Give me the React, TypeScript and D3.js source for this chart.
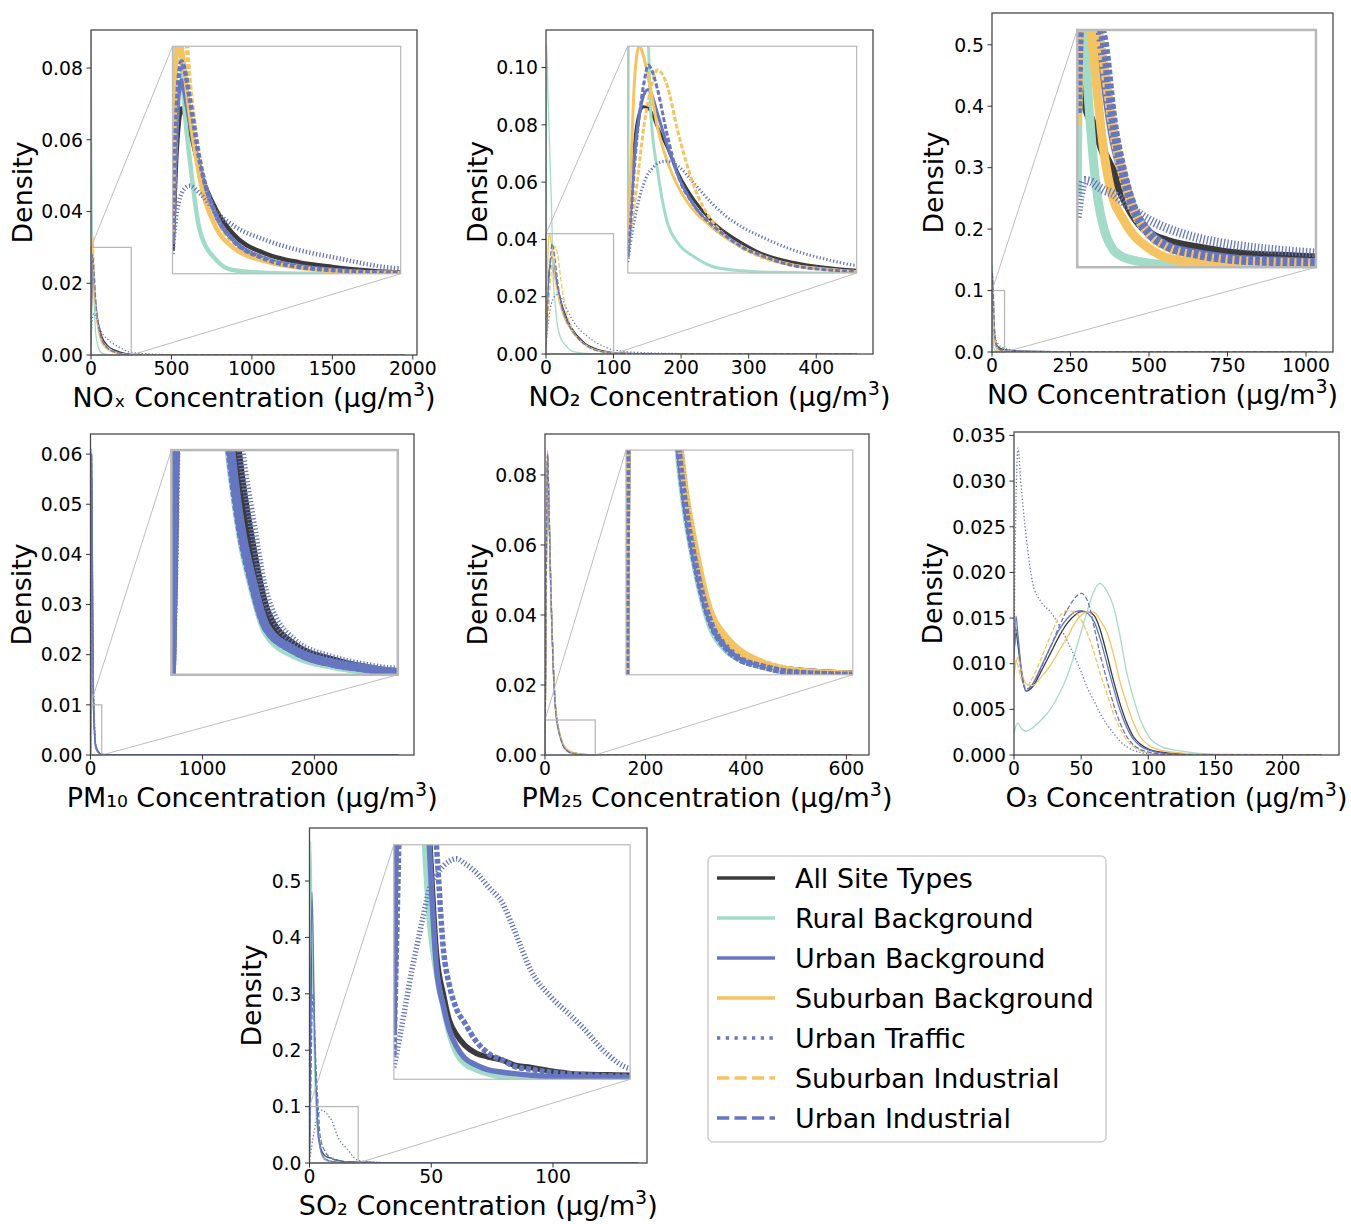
import React from 'react';
import * as d3 from 'd3';

const FONT = '"DejaVu Sans", sans-serif';

const SITE_TYPES = [
  'All Site Types',
  'Rural Background',
  'Urban Background',
  'Suburban Background',
  'Urban Traffic',
  'Suburban Industrial',
  'Urban Industrial',
];

// line look per site type (same order as SITE_TYPES)
const STYLES = [
  { color: '#3b3b3b', dash: '' },
  { color: '#a2dcc9', dash: '' },
  { color: '#6676c0', dash: '' },
  { color: '#f5c462', dash: '' },
  { color: '#6676c0', dash: 'dot' },
  { color: '#f5c462', dash: 'dash' },
  { color: '#6676c0', dash: 'dash' },
];

// ---- NOx ----
const NOX_X = [0, 1, 4, 7, 10, 13, 19, 30, 48, 66, 103, 139, 175, 250, 500, 1000, 1950];
const NOX_ALL = [0.003, 0.006, 0.015, 0.02, 0.0218, 0.0212, 0.0189, 0.0136, 0.0084, 0.0053, 0.0026, 0.0015, 0.0009, 0.0002, 0, 0, 0];
const NOX_RURAL = [0.01, 0.095, 0.06, 0.04, 0.028, 0.022, 0.015, 0.0057, 0.0018, 0.0005, 0.0001, 0, 0, 0, 0, 0, 0];
const NOX_URBAN = [0.004, 0.008, 0.018, 0.024, 0.0255, 0.024, 0.02, 0.014, 0.0075, 0.0045, 0.0019, 0.001, 0.0005, 0.0001, 0, 0, 0];
const NOX_SUBURBAN = [0.005, 0.012, 0.028, 0.032, 0.03, 0.027, 0.021, 0.0125, 0.006, 0.0035, 0.0016, 0.0008, 0.0004, 0.0001, 0, 0, 0];
const NOX_TRAFFIC = [0.0026, 0.004, 0.0075, 0.0095, 0.0106, 0.0112, 0.0116, 0.0106, 0.0081, 0.0064, 0.0044, 0.0031, 0.0022, 0.0007, 0.0001, 0, 0];
const NOX_SUBIND = [0.004, 0.008, 0.02, 0.028, 0.032, 0.033, 0.025, 0.015, 0.0075, 0.0042, 0.0018, 0.0009, 0.0004, 0.0001, 0, 0, 0];
const NOX_URBIND = [0.004, 0.008, 0.02, 0.026, 0.028, 0.027, 0.023, 0.0148, 0.0077, 0.0045, 0.0019, 0.0009, 0.0005, 0.0001, 0, 0, 0];
const NOX_XTICKS = [0, 500, 1000, 1500, 2000];
const NOX_YTICKS = [0, 0.02, 0.04, 0.06, 0.08];

// ---- NO2 ----
const NO2_X = [0, 1, 3, 5, 7, 9, 10, 13, 17, 22, 29, 37, 43, 50, 58, 72, 87, 100, 150, 250, 460];
const NO2_ALL = [0.003, 0.01, 0.024, 0.0295, 0.0308, 0.0305, 0.03, 0.027, 0.0235, 0.0185, 0.0135, 0.0095, 0.0074, 0.0055, 0.0037, 0.002, 0.001, 0.0005, 0.0001, 0, 0];
const NO2_RURAL = [0.01, 0.108, 0.09, 0.075, 0.06, 0.043, 0.03, 0.019, 0.0098, 0.0055, 0.003, 0.0012, 0.0007, 0.0004, 0.0002, 0.0001, 0, 0, 0, 0, 0];
const NO2_URBAN = [0.003, 0.009, 0.022, 0.029, 0.033, 0.034, 0.0335, 0.0295, 0.024, 0.018, 0.0125, 0.0085, 0.0066, 0.0048, 0.0032, 0.0015, 0.0007, 0.0003, 0.00005, 0, 0];
const NO2_SUBURBAN = [0.005, 0.015, 0.036, 0.042, 0.04, 0.036, 0.034, 0.027, 0.021, 0.016, 0.0115, 0.0085, 0.0065, 0.0048, 0.0033, 0.0015, 0.0007, 0.0003, 0.00005, 0, 0];
const NO2_TRAFFIC = [0.002, 0.005, 0.01, 0.0138, 0.0165, 0.0185, 0.019, 0.0203, 0.0207, 0.0198, 0.0166, 0.0128, 0.0105, 0.0085, 0.0068, 0.0043, 0.0025, 0.0014, 0.0004, 0.00005, 0];
const NO2_SUBIND = [0.003, 0.007, 0.013, 0.02, 0.027, 0.032, 0.034, 0.0376, 0.035, 0.026, 0.016, 0.0095, 0.0068, 0.0046, 0.003, 0.0014, 0.0006, 0.0002, 0, 0, 0];
const NO2_URBIND = [0.003, 0.008, 0.02, 0.029, 0.035, 0.0385, 0.038, 0.034, 0.026, 0.018, 0.0125, 0.0088, 0.0068, 0.0048, 0.0033, 0.0014, 0.0006, 0.0003, 0, 0, 0];
const NO2_XTICKS = [0, 100, 200, 300, 400];
const NO2_YTICKS = [0, 0.02, 0.04, 0.06, 0.08, 0.1];

// ---- NO ----
const NO_X = [0, 0.5, 1.2, 2.3, 3.5, 4.5, 6, 7.5, 9.3, 12, 15, 20, 26, 33, 40, 60, 100, 300, 1035];
const NO_ALL = [0.085, 0.08, 0.07, 0.062, 0.055, 0.048, 0.04, 0.031, 0.0224, 0.0145, 0.011, 0.0082, 0.0058, 0.0047, 0.004, 0.0025, 0.0012, 0.0002, 0];
const NO_RURAL = [0.03, 0.14, 0.1, 0.0565, 0.028, 0.016, 0.0075, 0.0045, 0.003, 0.0018, 0.001, 0.0003, 0.0001, 0, 0, 0, 0, 0, 0];
const NO_URBAN = [0.07, 0.12, 0.125, 0.11, 0.095, 0.08, 0.055, 0.04, 0.025, 0.0145, 0.009, 0.0058, 0.0036, 0.0026, 0.002, 0.0012, 0.0006, 0.0001, 0];
const NO_SUBURBAN = [0.06, 0.11, 0.12, 0.1, 0.07, 0.048, 0.029, 0.021, 0.014, 0.008, 0.004, 0.002, 0.0012, 0.0008, 0.0006, 0.0003, 0.0001, 0, 0];
const NO_TRAFFIC = [0.021, 0.03, 0.0366, 0.036, 0.034, 0.0325, 0.031, 0.028, 0.0245, 0.02, 0.0165, 0.0125, 0.0095, 0.0074, 0.006, 0.0035, 0.0015, 0.0002, 0];
const NO_SUBIND = [0.06, 0.1, 0.125, 0.115, 0.1, 0.085, 0.058, 0.04, 0.025, 0.014, 0.0085, 0.005, 0.003, 0.0022, 0.0017, 0.001, 0.0005, 0.0001, 0];
const NO_URBIND = [0.065, 0.11, 0.13, 0.12, 0.105, 0.095, 0.062, 0.042, 0.026, 0.0145, 0.009, 0.0055, 0.0033, 0.0024, 0.0018, 0.001, 0.0005, 0.0001, 0];
const NO_XTICKS = [0, 250, 500, 750, 1000];
const NO_YTICKS = [0, 0.1, 0.2, 0.3, 0.4, 0.5];

// ---- PM10 (no suburban sites) ----
const PM10_X = [0, 1, 2, 5, 10, 15, 20, 25, 28, 31, 35, 42, 54, 72, 85, 100, 200, 500, 2750];
const PM10_ALL = [0, 0.005, 0.012, 0.038, 0.058, 0.047, 0.027, 0.0145, 0.011, 0.0085, 0.006, 0.0028, 0.0013, 0.0006, 0.0003, 0.0001, 0, 0, 0];
const PM10_RURAL = [0, 0.008, 0.018, 0.05, 0.061, 0.04, 0.019, 0.0105, 0.008, 0.006, 0.0042, 0.0019, 0.0009, 0.0004, 0.0002, 0.0001, 0, 0, 0];
const PM10_URBAN = [0, 0.006, 0.014, 0.042, 0.06, 0.044, 0.022, 0.0115, 0.0085, 0.0064, 0.0045, 0.0021, 0.0011, 0.0005, 0.0003, 0.0001, 0, 0, 0];
const PM10_TRAFFIC = [0, 0.004, 0.01, 0.034, 0.055, 0.048, 0.03, 0.017, 0.0128, 0.0098, 0.0072, 0.0034, 0.0015, 0.0007, 0.0004, 0.0002, 0, 0, 0];
const PM10_URBIND = [0, 0.006, 0.015, 0.044, 0.06, 0.043, 0.021, 0.011, 0.0082, 0.0062, 0.0044, 0.0021, 0.0011, 0.0005, 0.0003, 0.0001, 0, 0, 0];
const PM10_XTICKS = [0, 1000, 2000];
const PM10_YTICKS = [0, 0.01, 0.02, 0.03, 0.04, 0.05, 0.06];

// ---- PM2.5 ----
const PM25_X = [0, 1, 3, 5, 8, 12, 16, 20, 23, 26, 30, 37, 44, 50, 59, 74, 100, 200, 610];
const PM25_ALL = [0, 0.02, 0.06, 0.086, 0.07, 0.045, 0.027, 0.0152, 0.0107, 0.008, 0.0056, 0.0026, 0.0014, 0.0009, 0.0005, 0.0002, 0.00005, 0, 0];
const PM25_RURAL = [0, 0.022, 0.065, 0.087, 0.068, 0.043, 0.025, 0.014, 0.0098, 0.0073, 0.005, 0.0022, 0.0011, 0.0007, 0.0004, 0.0001, 0, 0, 0];
const PM25_URBAN = [0, 0.02, 0.06, 0.086, 0.07, 0.045, 0.027, 0.015, 0.0105, 0.0078, 0.0054, 0.0025, 0.0013, 0.0008, 0.0005, 0.0002, 0.00005, 0, 0];
const PM25_SUBURBAN = [0, 0.019, 0.058, 0.087, 0.071, 0.046, 0.028, 0.016, 0.0112, 0.0084, 0.006, 0.0029, 0.0017, 0.0011, 0.0006, 0.0002, 0.00005, 0, 0];
const PM25_TRAFFIC = [0, 0.018, 0.056, 0.084, 0.071, 0.047, 0.029, 0.0163, 0.0112, 0.0082, 0.0056, 0.0025, 0.0012, 0.0007, 0.0004, 0.0001, 0, 0, 0];
const PM25_SUBIND = [0, 0.019, 0.057, 0.086, 0.071, 0.046, 0.028, 0.0158, 0.011, 0.0082, 0.0058, 0.0028, 0.0016, 0.001, 0.0006, 0.0002, 0, 0, 0];
const PM25_URBIND = [0, 0.02, 0.06, 0.086, 0.07, 0.045, 0.027, 0.0148, 0.0103, 0.0076, 0.0052, 0.0024, 0.0012, 0.0007, 0.0004, 0.0001, 0, 0, 0];
const PM25_XTICKS = [0, 200, 400, 600];
const PM25_YTICKS = [0, 0.02, 0.04, 0.06, 0.08];

// ---- O3 ----
const O3_X = [0, 1.5, 3, 5, 9, 14, 20, 27, 34, 40, 46, 50, 55, 60, 64, 69, 74, 79, 84, 89, 94, 101, 110, 126, 150, 229];
const O3_ALL = [0.0111, 0.0134, 0.012, 0.0095, 0.007, 0.0075, 0.0091, 0.0111, 0.0131, 0.0145, 0.0154, 0.0157, 0.0157, 0.0152, 0.0138, 0.0111, 0.0082, 0.0056, 0.0035, 0.002, 0.0012, 0.0006, 0.0003, 0.0001, 0, 0];
const O3_RURAL = [0.0024, 0.0032, 0.0035, 0.003, 0.0026, 0.003, 0.0038, 0.005, 0.0068, 0.0088, 0.0115, 0.0135, 0.016, 0.0181, 0.0188, 0.018, 0.0163, 0.013, 0.009, 0.0062, 0.0039, 0.0019, 0.0009, 0.0004, 0.0001, 0];
const O3_URBAN = [0.011, 0.0152, 0.013, 0.01, 0.007, 0.0078, 0.0096, 0.0118, 0.0138, 0.015, 0.0157, 0.0158, 0.0155, 0.0145, 0.0128, 0.0101, 0.0074, 0.0049, 0.003, 0.0017, 0.001, 0.0005, 0.0002, 0.0001, 0, 0];
const O3_SUBURBAN = [0.0088, 0.0102, 0.0107, 0.0095, 0.0078, 0.0076, 0.0085, 0.0098, 0.0115, 0.013, 0.0146, 0.0153, 0.0157, 0.0156, 0.0148, 0.0135, 0.0111, 0.008, 0.0056, 0.0035, 0.002, 0.001, 0.0005, 0.0002, 0, 0];
const O3_TRAFFIC = [0.012, 0.028, 0.0336, 0.03, 0.024, 0.0188, 0.0168, 0.0157, 0.0141, 0.0124, 0.0105, 0.0091, 0.0072, 0.0058, 0.0046, 0.0034, 0.0024, 0.0015, 0.0009, 0.0005, 0.0003, 0.0001, 0, 0, 0, 0];
const O3_SUBIND = [0.0085, 0.0104, 0.0098, 0.0085, 0.0075, 0.0085, 0.0105, 0.013, 0.0152, 0.0158, 0.0156, 0.0148, 0.0132, 0.011, 0.009, 0.0068, 0.0046, 0.0029, 0.0016, 0.0009, 0.0005, 0.0002, 0.0001, 0, 0, 0];
const O3_URBIND = [0.0105, 0.014, 0.0125, 0.0098, 0.0072, 0.0078, 0.0095, 0.0118, 0.0142, 0.016, 0.0173, 0.0177, 0.0168, 0.0138, 0.0111, 0.0083, 0.0056, 0.0035, 0.002, 0.0011, 0.0006, 0.0003, 0.0001, 0, 0, 0];
const O3_XTICKS = [0, 50, 100, 150, 200];
const O3_YTICKS = [0, 0.005, 0.01, 0.015, 0.02, 0.025, 0.03, 0.035];

// ---- SO2 (no suburban sites) ----
const SO2_X = [0, 0.5, 1, 1.5, 2, 2.5, 3, 3.6, 4.2, 4.7, 5.3, 6, 7, 8, 9.2, 10.2, 11.6, 13.3, 15, 16, 18, 20, 30, 60, 135];
const SO2_ALL = [0.02, 0.25, 0.39, 0.33, 0.22, 0.15, 0.105, 0.054, 0.036, 0.025, 0.019, 0.0145, 0.011, 0.0095, 0.0081, 0.006, 0.005, 0.0035, 0.0024, 0.0021, 0.0019, 0.0017, 0.0008, 0.0002, 0];
const SO2_RURAL = [0.1, 0.57, 0.45, 0.3, 0.18, 0.11, 0.068, 0.045, 0.03, 0.019, 0.011, 0.0065, 0.004, 0.0022, 0.001, 0.0006, 0.0003, 0.0002, 0.0001, 0.0001, 0, 0, 0, 0, 0];
const SO2_URBAN = [0.02, 0.3, 0.48, 0.4, 0.26, 0.16, 0.1, 0.048, 0.031, 0.021, 0.014, 0.009, 0.006, 0.004, 0.003, 0.0024, 0.0017, 0.0012, 0.001, 0.0009, 0.0008, 0.0007, 0.0003, 0.0001, 0];
const SO2_TRAFFIC = [0.005, 0.018, 0.032, 0.046, 0.058, 0.07, 0.081, 0.087, 0.091, 0.093, 0.094, 0.092, 0.088, 0.082, 0.075, 0.0635, 0.0464, 0.0351, 0.027, 0.022, 0.011, 0.0046, 0.0008, 0.0001, 0];
const SO2_URBIND = [0.01, 0.12, 0.25, 0.3, 0.25, 0.19, 0.14, 0.1, 0.055, 0.04, 0.03, 0.024, 0.016, 0.011, 0.0081, 0.0055, 0.0042, 0.003, 0.0022, 0.0019, 0.0015, 0.0013, 0.0006, 0.0001, 0];
const SO2_XTICKS = [0, 50, 100];
const SO2_YTICKS = [0, 0.1, 0.2, 0.3, 0.4, 0.5];

const panels = [
  { id: 'nox', name: 'NOₓ', box: [91, 30, 417, 355], xDomain: [0, 2026], yDomain: [0, 0.0906],
    xTicks: NOX_XTICKS, yTicks: NOX_YTICKS, yFmt: '.2f', xs: NOX_X,
    series: [NOX_ALL, NOX_RURAL, NOX_URBAN, NOX_SUBURBAN, NOX_TRAFFIC, NOX_SUBIND, NOX_URBIND],
    zoom: [250, 0.03], insetLw: 4.5, insetBorder: 1.2, yLabelX: 32 },
  { id: 'no2', name: 'NO₂', box: [546, 30, 873, 354], xDomain: [0, 484], yDomain: [0, 0.1131],
    xTicks: NO2_XTICKS, yTicks: NO2_YTICKS, yFmt: '.2f', xs: NO2_X,
    series: [NO2_ALL, NO2_RURAL, NO2_URBAN, NO2_SUBURBAN, NO2_TRAFFIC, NO2_SUBIND, NO2_URBIND],
    zoom: [100, 0.042], insetLw: 3, insetBorder: 1.2, yLabelX: 487 },
  { id: 'no', name: 'NO', box: [992, 13, 1333, 352], xDomain: [0, 1086], yDomain: [0, 0.5517],
    xTicks: NO_XTICKS, yTicks: NO_YTICKS, yFmt: '.1f', xs: NO_X,
    series: [NO_ALL, NO_RURAL, NO_URBAN, NO_SUBURBAN, NO_TRAFFIC, NO_SUBIND, NO_URBIND],
    zoom: [40, 0.1], insetLw: 9, insetBorder: 2.5, yLabelX: 943 },
  { id: 'pm10', name: 'PM₁₀', box: [90.5, 434, 414, 755], xDomain: [0, 2890], yDomain: [0, 0.064],
    xTicks: PM10_XTICKS, yTicks: PM10_YTICKS, yFmt: '.2f', xs: PM10_X,
    series: [PM10_ALL, PM10_RURAL, PM10_URBAN, null, PM10_TRAFFIC, null, PM10_URBIND],
    zoom: [100, 0.01], insetLw: 9, insetBorder: 2.5, yLabelX: 31 },
  { id: 'pm25', name: 'PM₂₅', box: [545, 434, 869, 755], xDomain: [0, 645], yDomain: [0, 0.0917],
    xTicks: PM25_XTICKS, yTicks: PM25_YTICKS, yFmt: '.2f', xs: PM25_X,
    series: [PM25_ALL, PM25_RURAL, PM25_URBAN, PM25_SUBURBAN, PM25_TRAFFIC, PM25_SUBIND, PM25_URBIND],
    zoom: [100, 0.01], insetLw: 6.5, insetBorder: 1.2, yLabelX: 487 },
  { id: 'o3', name: 'O₃', box: [1014, 432, 1339, 755], xDomain: [0, 242], yDomain: [0, 0.03538],
    xTicks: O3_XTICKS, yTicks: O3_YTICKS, yFmt: '.3f', xs: O3_X,
    series: [O3_ALL, O3_RURAL, O3_URBAN, O3_SUBURBAN, O3_TRAFFIC, O3_SUBIND, O3_URBIND],
    zoom: null, insetLw: 0, insetBorder: 0, yLabelX: 942 },
  { id: 'so2', name: 'SO₂', box: [309.5, 828, 647, 1163], xDomain: [0, 138.6], yDomain: [0, 0.594],
    xTicks: SO2_XTICKS, yTicks: SO2_YTICKS, yFmt: '.1f', xs: SO2_X,
    series: [SO2_ALL, SO2_RURAL, SO2_URBAN, null, SO2_TRAFFIC, null, SO2_URBIND],
    zoom: [20, 0.1], insetLw: 5.5, insetBorder: 1.2, yLabelX: 261 },
];

const MAIN_LW = 1.3;

function dashFor(kind, lw) {
  // dash patterns are sized for the thin main lines and kept as-is in the insets
  if (kind === 'dot') return `${lw},${lw * 1.65}`;
  if (kind === 'dash') return `${lw * 3.7},${lw * 1.6}`;
  return undefined;
}

function Lines({ p, x, y, lw, dashLw }) {
  const line = d3.line<number>()
    .x((d, i) => x(p.xs[i]))
    .y((d) => y(d))
    .curve(d3.curveMonotoneX);
  return (
    <g>
      {p.series.map((vals, i) =>
        vals ? (
          <path key={i} d={line(vals) || ''} fill="none" stroke={STYLES[i].color}
            strokeWidth={lw} strokeDasharray={dashFor(STYLES[i].dash, dashLw)}
            strokeLinejoin="round" strokeLinecap="butt" />
        ) : null
      )}
    </g>
  );
}

function Panel({ p }) {
  const [left, top, right, bottom] = p.box;
  const x = d3.scaleLinear().domain(p.xDomain).range([left, right]);
  const y = d3.scaleLinear().domain(p.yDomain).range([bottom, top]);
  const fmt = d3.format(p.yFmt);
  const w = right - left;
  const h = bottom - top;

  let inset = null;
  if (p.zoom) {
    const [zx, zy] = p.zoom;
    const il = left + 0.25 * w, ir = left + 0.95 * w;
    const ib = bottom - 0.25 * h, it = bottom - 0.95 * h;
    const ix = d3.scaleLinear().domain([0, zx]).range([il, ir]);
    const iy = d3.scaleLinear().domain([0, zy]).range([ib, it]);
    inset = (
      <g>
        <rect x={x(0)} y={y(zy)} width={x(zx) - x(0)} height={y(0) - y(zy)}
          fill="none" stroke="#b5b5b5" strokeWidth={1.2} />
        <line x1={x(0)} y1={y(zy)} x2={il} y2={it} stroke="#b5b5b5" strokeWidth={0.9} />
        <line x1={x(zx)} y1={y(0)} x2={ir} y2={ib} stroke="#b5b5b5" strokeWidth={0.9} />
        <rect x={il} y={it} width={ir - il} height={ib - it} fill="#fff" />
        <clipPath id={`clip-in-${p.id}`}>
          <rect x={il} y={it} width={ir - il} height={ib - it} />
        </clipPath>
        <g clipPath={`url(#clip-in-${p.id})`}>
          <Lines p={p} x={ix} y={iy} lw={p.insetLw} dashLw={MAIN_LW} />
        </g>
        <rect x={il} y={it} width={ir - il} height={ib - it} fill="none"
          stroke="#b9b9b9" strokeWidth={p.insetBorder} />
      </g>
    );
  }

  return (
    <g fontFamily={FONT}>
      <clipPath id={`clip-${p.id}`}>
        <rect x={left} y={top} width={w} height={h} />
      </clipPath>
      <g clipPath={`url(#clip-${p.id})`}>
        <Lines p={p} x={x} y={y} lw={MAIN_LW} dashLw={MAIN_LW} />
      </g>
      {inset}
      <rect x={left} y={top} width={w} height={h} fill="none" stroke="#4a4a4a" strokeWidth={1.3} />
      {p.xTicks.map((t) => (
        <g key={`x${t}`}>
          <line x1={x(t)} x2={x(t)} y1={bottom} y2={bottom + 4.5} stroke="#333" strokeWidth={1} />
          <text x={x(t)} y={bottom + 20} textAnchor="middle" fontSize={18.8} fill="#000">{t}</text>
        </g>
      ))}
      {p.yTicks.map((t) => (
        <g key={`y${t}`}>
          <line x1={left - 4.5} x2={left} y1={y(t)} y2={y(t)} stroke="#333" strokeWidth={1} />
          <text x={left - 8} y={y(t)} dy="0.36em" textAnchor="end" fontSize={18.8} fill="#000">{fmt(t)}</text>
        </g>
      ))}
      <text transform={`translate(${p.yLabelX},${(top + bottom) / 2}) rotate(-90)`}
        textAnchor="middle" fontSize={26.9} fill="#000">Density</text>
      <text x={(left + right) / 2} y={bottom + 52} textAnchor="middle" fontSize={26.9} fill="#000">
        {`${p.name} Concentration (μg/m`}
        <tspan dy={-11} fontSize={19}>3</tspan>
        <tspan dy={11}>)</tspan>
      </text>
    </g>
  );
}

function Legend() {
  const lx = 708, ly = 856, lw = 398, lh = 286;
  const legendLw = 3.3;
  return (
    <g fontFamily={FONT}>
      <rect x={lx} y={ly} width={lw} height={lh} rx={5} fill="#fff" stroke="#d0d0d0" strokeWidth={1.6} />
      {SITE_TYPES.map((name, i) => {
        const cy = 878 + i * 40;
        const st = STYLES[i];
        const dash = st.dash === 'dot' ? `${legendLw},${legendLw * 1.65}`
          : st.dash === 'dash' ? `${legendLw * 3.7},${legendLw * 1.6}` : undefined;
        return (
          <g key={name}>
            <line x1={717} x2={775} y1={cy} y2={cy} stroke={st.color} strokeWidth={legendLw}
              strokeDasharray={dash} />
            <text x={795} y={cy} dy="0.36em" fontSize={26.9} fill="#000">{name}</text>
          </g>
        );
      })}
    </g>
  );
}

export default function App() {
  return (
    <div style={{ position: 'absolute', left: 0, top: 0 }}>
      <svg width={1351} height={1224} viewBox="0 0 1351 1224" style={{ display: 'block', background: '#fff' }}>
        {panels.map((p) => <Panel key={p.id} p={p} />)}
        <Legend />
      </svg>
    </div>
  );
}
